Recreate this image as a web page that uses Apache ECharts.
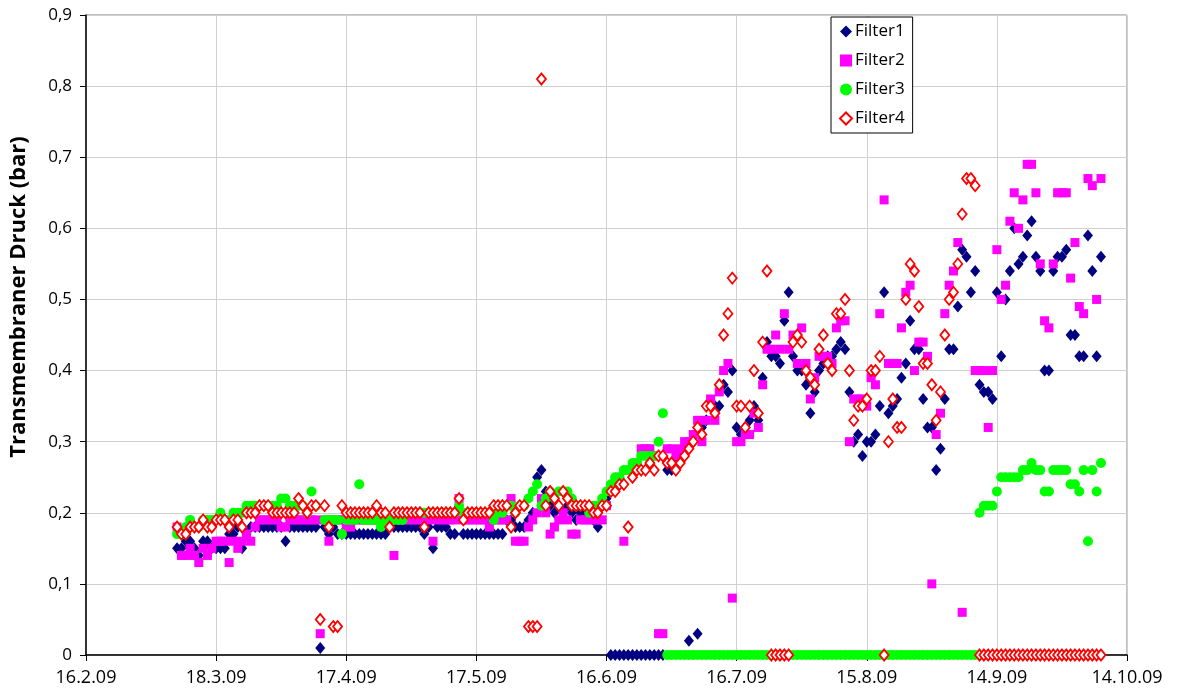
<!DOCTYPE html>
<html>
<head>
<meta charset="utf-8">
<script src="https://cdn.jsdelivr.net/npm/echarts@6/dist/echarts.min.js"></script>
<style>
  html, body { margin: 0; padding: 0; background: #ffffff; }
  #chart { width: 1182px; height: 697px; }
</style>
</head>
<body>
<div id="chart"></div>
<script>
// x-axis tick labels, one every 30 days starting 16.2.09
const tickLabels = ['16.2.09', '18.3.09', '17.4.09', '17.5.09', '16.6.09', '16.7.09', '15.8.09', '14.9.09', '14.10.09'];
const tickStepDays = 30;
// first measured day: 9.3.09 = day 21 after 16.2.09; one value per day
const firstDay = 21;
const seriesNames = ['Filter1', 'Filter2', 'Filter3', 'Filter4'];

const filter1 = [
  0.15,0.15,0.16,0.16,0.15,0.14,0.16,0.16,0.15,0.15,
  0.15,0.15,0.17,0.17,0.18,0.15,0.17,0.18,0.18,0.18,
  0.18,0.18,0.18,0.18,0.18,0.16,0.18,0.18,0.18,0.18,
  0.18,0.18,0.18,0.01,0.18,0.17,0.18,0.17,0.17,0.17,
  0.17,0.17,0.17,0.17,0.17,0.17,0.17,0.17,0.17,0.18,
  0.18,0.18,0.18,0.18,0.18,0.18,0.18,0.17,0.18,0.15,
  0.18,0.18,0.18,0.17,0.17,0.21,0.17,0.17,0.17,0.17,
  0.17,0.17,0.17,0.17,0.17,0.17,0.19,0.19,0.18,0.18,
  0.18,0.19,0.20,0.25,0.26,0.23,0.21,0.20,0.21,0.20,
  0.21,0.20,0.19,0.20,0.20,0.20,0.19,0.18,0.21,0.22,
  0,0,0,0,0,0,0,0,0,0,
  0,0,0,0.26,0.26,0.27,0.28,0.29,0.02,0.30,
  0.03,0.32,0.33,0.35,0.35,0.35,0.38,0.37,0.40,0.32,
  0.31,0.32,0.33,0.35,0.33,0.39,0.44,0.42,0.42,0.41,
  0.47,0.51,0.42,0.40,0.40,0.38,0.34,0.37,0.40,0.41,
  0.42,0.42,0.43,0.44,0.43,0.37,0.30,0.31,0.28,0.30,
  0.30,0.31,0.35,0.51,0.34,0.35,0.36,0.39,0.41,0.47,
  0.43,0.43,0.36,0.32,0.32,0.26,0.29,0.36,0.43,0.43,
  0.49,0.57,0.56,0.51,0.54,0.38,0.37,0.37,0.36,0.51,
  0.42,0.50,0.54,0.60,0.55,0.56,0.59,0.61,0.56,0.54,
  0.40,0.40,0.54,0.56,0.56,0.57,0.45,0.45,0.42,0.42,
  0.59,0.54,0.42,0.56
];

const filter2 = [
  0.18,0.14,0.14,0.15,0.14,0.13,0.15,0.14,0.15,0.16,
  0.16,0.16,0.13,0.16,0.15,0.16,0.17,0.16,0.18,0.19,
  0.19,0.19,0.19,0.19,0.18,0.18,0.19,0.19,0.19,0.19,
  0.19,0.19,0.19,0.03,0.19,0.16,0.19,0.19,0.19,0.18,
  0.18,0.19,0.19,0.19,0.19,0.19,0.19,0.19,0.19,0.19,
  0.14,0.19,0.19,0.19,0.19,0.19,0.19,0.19,0.19,0.16,
  0.19,0.19,0.19,0.19,0.19,0.22,0.19,0.19,0.19,0.19,
  0.19,0.19,0.18,0.19,0.19,0.19,0.19,0.22,0.16,0.16,
  0.16,0.18,0.19,0.20,0.22,0.20,0.17,0.18,0.19,0.20,
  0.19,0.17,0.17,0.19,0.19,0.19,0.19,0.19,0.19,0.21,
  0.23,0.24,0.25,0.16,0.26,0.26,0.27,0.29,0.29,0.29,
  0.28,0.03,0.03,0.29,0.29,0.28,0.29,0.30,0.30,0.31,
  0.33,0.30,0.33,0.36,0.33,0.37,0.40,0.41,0.08,0.30,
  0.30,0.31,0.31,0.34,0.32,0.38,0.43,0.43,0.45,0.43,
  0.48,0.43,0.45,0.41,0.46,0.41,0.36,0.39,0.42,0.42,
  0.42,0.41,0.46,0.47,0.47,0.30,0.36,0.36,0.36,0.35,
  0.39,0.38,0.48,0.64,0.41,0.41,0.41,0.46,0.51,0.52,
  0.40,0.44,0.44,0.42,0.10,0.31,0.34,0.48,0.52,0.54,
  0.58,0.06,null,null,0.40,0.40,0.40,0.32,0.40,0.57,
  0.50,0.52,0.61,0.65,0.60,0.64,0.69,0.69,0.65,0.55,
  0.47,0.46,0.55,0.65,0.65,0.65,0.53,0.58,0.49,0.48,
  0.67,0.66,0.50,0.67
];

const filter3 = [
  0.17,0.17,0.18,0.19,0.18,0.18,0.19,0.19,0.19,0.19,
  0.20,0.19,0.19,0.20,0.20,0.20,0.21,0.21,0.21,0.21,
  0.21,0.21,0.21,0.21,0.22,0.22,0.21,0.21,0.21,0.21,
  0.20,0.23,0.21,null,0.19,0.19,0.19,0.19,0.17,0.19,
  0.19,0.19,0.24,0.19,0.19,0.19,0.19,0.18,0.19,0.19,
  0.19,0.19,0.19,0.20,0.20,0.20,0.20,0.20,0.20,0.20,
  0.20,0.20,0.20,0.20,0.20,0.21,0.20,0.20,0.20,0.20,
  0.20,0.20,0.20,0.19,0.20,0.20,0.21,0.21,0.20,0.21,
  0.21,0.22,0.23,0.24,0.21,0.22,0.23,0.22,0.23,0.23,
  0.23,0.22,0.21,0.21,0.21,0.20,0.21,0.21,0.22,0.23,
  0.24,0.25,0.25,0.26,0.26,0.27,0.27,0.28,0.28,0.28,
  0.28,0.30,0.34,0,0,0,0,0,0,0,
  0,0,0,0,0,0,0,0,0,0,
  0,0,0,0,0,0,0,0,0,0,
  0,0,0,0,0,0,0,0,0,0,
  0,0,0,0,0,0,0,0,0,0,
  0,0,0,0,0,0,0,0,0,0,
  0,0,0,0,0,0,0,0,0,0,
  0,0,0,0,0,0.20,0.21,0.21,0.21,0.23,
  0.25,0.25,0.25,0.25,0.25,0.26,0.26,0.27,0.26,0.26,
  0.23,0.23,0.26,0.26,0.26,0.26,0.24,0.24,0.23,0.26,
  0.16,0.26,0.23,0.27
];

const filter4 = [
  0.18,0.17,0.17,0.18,0.18,0.18,0.19,0.18,0.18,0.19,
  0.19,0.19,0.18,0.19,0.19,0.18,0.20,0.20,0.20,0.21,
  0.21,0.21,0.20,0.20,0.20,0.20,0.20,0.20,0.22,0.21,
  0.20,0.21,0.21,0.05,0.21,0.18,0.04,0.04,0.21,0.20,
  0.20,0.20,0.20,0.20,0.20,0.20,0.21,0.20,0.20,0.18,
  0.20,0.20,0.20,0.20,0.20,0.20,0.20,0.18,0.20,0.20,
  0.20,0.20,0.20,0.20,0.20,0.22,0.19,0.20,0.20,0.20,
  0.20,0.20,0.20,0.21,0.21,0.21,0.21,0.18,0.20,0.21,
  0.21,0.04,0.04,0.04,0.81,0.21,0.23,0.22,0.21,0.23,
  0.22,0.21,0.21,0.21,0.21,0.21,0.20,0.20,0.21,0.21,
  0.23,0.23,0.24,0.24,0.18,0.25,0.26,0.26,0.26,0.27,
  0.26,0.28,0.28,0.27,0.27,0.26,0.27,0.28,0.29,0.30,
  0.32,0.31,0.35,0.35,0.34,0.38,0.45,0.48,0.53,0.35,
  0.35,0.32,0.35,0.40,0.34,0.44,0.54,0,0,0,
  0,0,0.44,0.45,0.44,0.40,0.39,0.38,0.43,0.45,
  0.41,0.40,0.48,0.48,0.50,0.40,0.33,0.35,0.35,0.36,
  0.40,0.40,0.42,0,0.30,0.36,0.32,0.32,0.50,0.55,
  0.54,0.49,0.41,0.41,0.38,0.33,0.37,0.45,0.50,0.51,
  0.55,0.62,0.67,0.67,0.66,0,0,0,0,0,
  0,0,0,0,0,0,0,0,0,0,
  0,0,0,0,0,0,0,0,0,0,
  0,0,0,0
];

function toPoints(values) {
  const pts = [];
  values.forEach((v, i) => { if (v !== null) pts.push([firstDay + i, v]); });
  return pts;
}

const FONT = '"Open Sans", sans-serif';
const chart = echarts.init(document.getElementById('chart'), null, { renderer: 'canvas' });

const option = {
  animation: false,
  backgroundColor: '#ffffff',
  grid: { left: 85, right: 55, top: 15, bottom: 42, show: true, borderColor: '#808080', borderWidth: 1 },
  legend: {
    orient: 'vertical',
    left: 831, top: 17,
    width: 81,
    padding: [6, 8, 6, 8],
    itemGap: 12,
    itemWidth: 12, itemHeight: 12,
    borderColor: '#000000', borderWidth: 1,
    backgroundColor: '#ffffff',
    textStyle: { fontFamily: FONT, fontSize: 17, color: '#000000', padding: [0, 0, 0, -2] },
    data: seriesNames
  },
  xAxis: {
    type: 'value',
    min: 0, max: tickStepDays * (tickLabels.length - 1), interval: tickStepDays,
    axisLine: { show: true, onZero: false, lineStyle: { color: '#000000', width: 1.5 } },
    axisTick: { show: true, inside: false, length: 6, lineStyle: { color: '#000000' } },
    axisLabel: {
      fontFamily: FONT, fontSize: 18, color: '#000000', margin: 14,
      formatter: v => tickLabels[Math.round(v / tickStepDays)]
    },
    splitLine: { show: true, lineStyle: { color: '#d0d0d0', width: 1 } }
  },
  yAxis: {
    type: 'value',
    min: 0, max: 0.9, interval: 0.1,
    name: 'Transmembraner Druck (bar)',
    nameLocation: 'middle',
    nameGap: 56,
    nameTextStyle: { fontFamily: FONT, fontSize: 22, fontWeight: 'bold', color: '#000000', padding: [0, 0, 0, 76] },
    axisLine: { show: true, lineStyle: { color: '#000000', width: 1.5 } },
    axisTick: { show: true, inside: false, length: 6, lineStyle: { color: '#000000' } },
    axisLabel: {
      fontFamily: FONT, fontSize: 17, color: '#000000', margin: 14,
      formatter: v => (v === 0 ? '0' : v.toFixed(1).replace('.', ','))
    },
    splitLine: { show: true, lineStyle: { color: '#d0d0d0', width: 1 } }
  },
  series: [
    {
      name: seriesNames[0], type: 'scatter', clip: false,
      symbol: 'diamond', symbolSize: [10, 12],
      itemStyle: { color: '#000080', opacity: 1 },
      data: toPoints(filter1)
    },
    {
      name: seriesNames[1], type: 'scatter', clip: false,
      symbol: 'rect', symbolSize: 9,
      itemStyle: { color: '#ff00ff', opacity: 1 },
      data: toPoints(filter2)
    },
    {
      name: seriesNames[2], type: 'scatter', clip: false,
      symbol: 'circle', symbolSize: 10,
      itemStyle: { color: '#00ff00', opacity: 1 },
      data: toPoints(filter3)
    },
    {
      name: seriesNames[3], type: 'scatter', clip: false,
      symbol: 'diamond', symbolSize: [9, 11],
      itemStyle: { color: '#ffffff', borderColor: '#ff0000', borderWidth: 1.8, opacity: 1 },
      data: toPoints(filter4)
    }
  ]
};
chart.setOption(option);
</script>
</body>
</html>
